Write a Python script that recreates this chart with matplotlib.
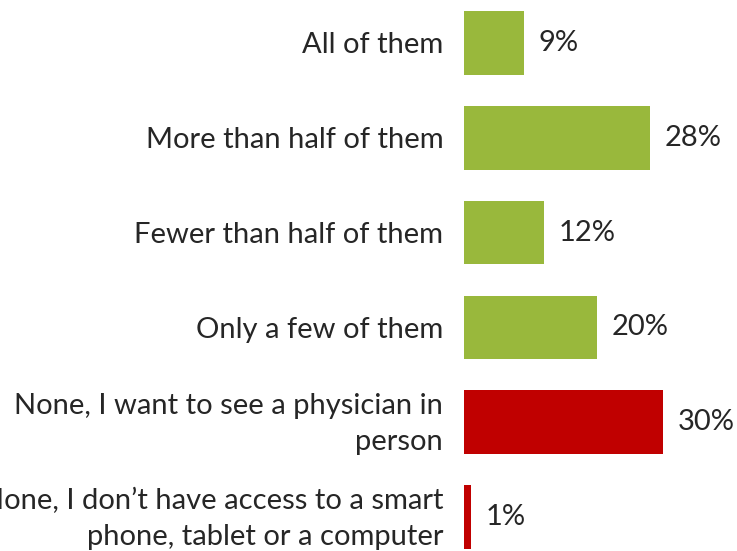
import matplotlib
matplotlib.use("Agg")
import matplotlib.pyplot as plt
import matplotlib.transforms as mtransforms

# survey answers, top to bottom
labels = ["All of them",
          "More than half of them",
          "Fewer than half of them",
          "Only a few of them",
          "None, I want to see a physician in\nperson",
          "None, I don\u2019t have access to a smart\nphone, tablet or a computer"]
values = [9, 28, 12, 20, 30, 1]
colours = ["#99B83C"] * 4 + ["#C00000"] * 2

plt.rcParams['font.family'] = ['Lato', 'DejaVu Sans']

fig = plt.figure(figsize=(7.37, 5.51), dpi=100)
ax = fig.add_axes([464 / 737, 0, (737 - 464) / 737, 1])

ypos = list(range(len(values)))
ax.barh(ypos, values, height=0.67, color=colours)

for y, v in zip(ypos, values):
    ax.annotate(f"{v}%", (v, y), xytext=(11, 0), textcoords="offset points",
                ha="left", va="center", fontsize=21, color="#262626")

ax.set_xlim(0, 41.2)
ax.set_ylim(5.359, -0.4536)
ax.set_yticks(ypos)
ax.set_yticklabels(labels, fontsize=21, color="#262626", ha="right",
                   linespacing=1.5)
ax.tick_params(axis="y", length=0, pad=15)
ax.set_xticks([])
for s in ax.spines.values():
    s.set_visible(False)

# nudge the two-line labels up a little
shift = mtransforms.ScaledTranslation(0, 6 / 100, fig.dpi_scale_trans)
for lab in ax.get_yticklabels():
    if "\n" in lab.get_text():
        lab.set_transform(lab.get_transform() + shift)

fig.savefig("out.png", dpi=100)
